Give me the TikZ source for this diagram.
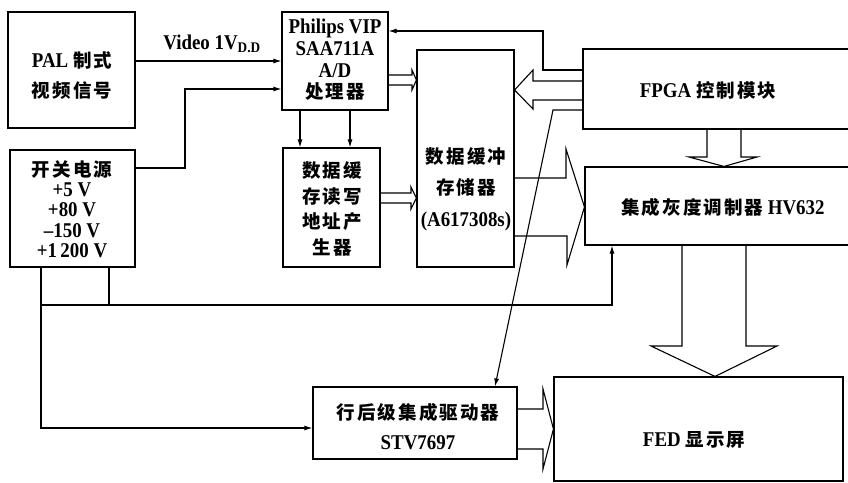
\documentclass[tikz,border=0pt]{standalone}
\usepackage{fontspec}
\setmainfont{Liberation Serif}[FakeStretch=0.9]
\newfontfamily\cjkf[LetterSpace=11]{Noto Sans CJK SC}
\newcommand\zh[1]{{\fontsize{18.5}{20}\selectfont\cjkf\bfseries #1}}
\usetikzlibrary{arrows.meta,calc}
\tikzset{
  box/.style={draw, line width=1.1pt, inner sep=0pt},
  txt/.style={inner sep=0pt, align=center, font=\bfseries\fontsize{21}{#1}\selectfont},
  conn/.style={line width=1.1pt},
  arr/.style={line width=1.1pt, -{Latex[length=8pt,width=5pt]}},
  wide/.style={line width=1.1pt, line join=miter}
}
\begin{document}
\begin{tikzpicture}[x=1pt,y=-1pt]
\clip (0,0) rectangle (848,482);
\fill[white] (0,0) rectangle (848,482);

% boxes
\node[box, minimum width=127pt, minimum height=116pt] (pal) at (71.5,70) {};
\node[box, minimum width=125pt, minimum height=117pt] (pwr) at (72.5,208.5) {};
\node[box, minimum width=106pt, minimum height=98pt] (vip) at (335,61) {};
\node[box, minimum width=97pt, minimum height=119pt] (adr) at (331.5,207.5) {};
\node[box, minimum width=97pt, minimum height=217pt] (buf) at (465.5,158.5) {};
\node[box, minimum width=269pt, minimum height=80pt] (fpga) at (717.5,89) {};
\node[box, minimum width=269pt, minimum height=78pt] (hv) at (719.5,206) {};
\node[box, minimum width=204pt, minimum height=72pt] (stv) at (415,423) {};
\node[box, minimum width=289pt, minimum height=104pt] (fed) at (698.5,429) {};

% texts
\node[txt=30] (palT) at (72,75) {PAL \zh{制式}\\\zh{视频信号}};
\node[txt=20.3] (pwrT) at (72,209) {\zh{开关电源}\\+5 V\\+80 V\\\textendash150 V\\+1\,200 V};
\node[txt=21.7] (vipT) at (335,60) {Philips VIP\\SAA711A\\A/D\\\zh{处理器}};
\node[txt=25.7] (adrT) at (332,209) {\zh{数据缓}\\\zh{存读写}\\\zh{地址产}\\\zh{生器}};
\node[txt=31.5] (bufT) at (466,189) {\zh{数据缓冲}\\\zh{存储器}\\(A617308s)};
\node[txt=20] (fpgaT) at (708,90) {FPGA \zh{控制模块}};
\node[txt=20] (hvT) at (723,207) {\zh{集成灰度调制器} HV632};
\node[txt=30] (stvT) at (418,427) {\zh{行后级集成驱动器}\\STV7697};
\node[txt=20] (fedT) at (694,440) {FED \zh{显示屏}};
\node[txt=20] (vidT) at (212,44) {Video 1V\textsubscript{D.D}};

% thin connectors
\draw[arr] (pal.east |- 0,61) -- (vip.west |- 0,61);
\draw[arr] (pwr.east |- 0,168) -- (185,168) -- (185,89) -- (vip.west |- 0,89);
\draw[arr] (fpga.west |- 0,70) -- (543,70) -- (543,31) -- (vip.east |- 0,31);
\draw[arr] (fpga.west |- 0,110) -- (553,110) -- (stv.north -| 495,0);
\draw[arr] (vip.south -| 300,0) -- (adr.north -| 300,0);
\draw[arr] (vip.south -| 350,0) -- (adr.north -| 350,0);
\draw[arr] (pwr.south -| 41,0) -- (41,428) -- (stv.west |- 0,428);
\draw[conn] (pwr.south -| 109,0) -- (109,305);
\draw[arr] (41,305) -- (612,305) -- (hv.south -| 612,0);

% wide arrows
\draw[wide] (vip.east |- 0,75) -- (412,75) -- (412,70) -- (buf.west |- 0,80) -- (412,90) -- (412,85) -- (vip.east |- 0,85);
\draw[wide] (adr.east |- 0,193) -- (411,193) -- (411,187) -- (buf.west |- 0,198) -- (411,209) -- (411,203) -- (adr.east |- 0,203);
\draw[wide] (fpga.west |- 0,81) -- (533,81) -- (533,70) -- (buf.east |- 0,90) -- (533,109) -- (533,100) -- (fpga.west |- 0,100);
\draw[wide] (buf.east |- 0,178) -- (566,178) -- (566,149) -- (hv.west |- 0,207) -- (567,265) -- (567,236) -- (buf.east |- 0,236);
\draw[wide] (fpga.south -| 707,0) -- (707,157) -- (689,157) -- (hv.north -| 724,0) -- (757,157) -- (741,157) -- (fpga.south -| 741,0);
\draw[wide] (hv.south -| 682,0) -- (682,346) -- (651,346) -- (fed.north -| 715,0) -- (777,346) -- (746,346) -- (hv.south -| 746,0);
\draw[wide] (stv.east |- 0,409) -- (543,409) -- (543,389) -- (fed.west |- 0,429) -- (543,469) -- (543,449) -- (stv.east |- 0,449);
\end{tikzpicture}
\end{document}
